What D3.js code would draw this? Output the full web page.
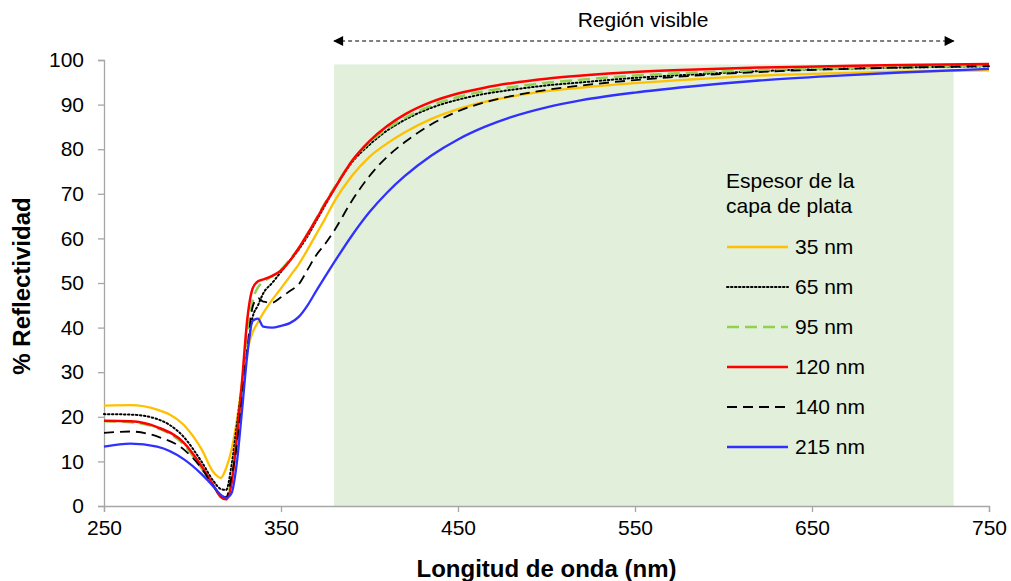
<!DOCTYPE html>
<html lang="es">
<head>
<meta charset="UTF-8">
<script src="https://d3js.org/d3.v7.min.js"></script>
<style>
  body { margin: 0; background: #fff; }
  text { font-family: "Liberation Sans", Arial, sans-serif; fill: #000; }
</style>
<title>Reflectividad</title>
</head>
<body>
<script>
// longitudes de onda (nm) compartidas por todas las curvas
var wavelengths = [250, 265, 280, 295, 305, 312, 316, 319, 322, 325, 328, 331, 334, 337, 340, 345, 350, 355, 360, 365, 370, 375, 380, 390, 400, 410, 420, 435, 450, 465, 480, 500, 520, 550, 580, 620, 660, 700, 750];

var r35  = [22.5, 22.6, 21.6, 18.2, 12.8, 7.5, 6.3, 8.5, 12.5, 19.0, 27.6, 35.0, 39.0, 41.2, 43.3, 46.2, 48.8, 51.5, 54.2, 57.5, 61.0, 64.5, 68.2, 74.0, 78.3, 81.3, 83.8, 86.8, 89.0, 90.6, 91.8, 93.0, 93.8, 94.8, 95.6, 96.5, 97.0, 97.4, 97.7];
var r65  = [20.6, 20.5, 19.5, 15.5, 10.0, 5.5, 3.8, 3.6, 9.0, 18.0, 27.0, 35.0, 42.4, 45.0, 47.7, 50.0, 52.5, 55.0, 57.5, 60.5, 64.0, 67.5, 71.0, 77.0, 81.0, 84.2, 86.6, 89.3, 91.1, 92.4, 93.3, 94.3, 95.0, 96.0, 96.7, 97.5, 98.0, 98.3, 98.6];
var r95  = [19.0, 18.8, 17.5, 13.8, 8.5, 4.2, 2.3, 2.0, 6.0, 15.0, 26.0, 38.0, 46.0, 49.0, 50.3, 51.5, 53.0, 55.3, 57.8, 61.0, 64.5, 68.0, 71.3, 77.3, 81.5, 84.6, 87.0, 89.8, 91.7, 93.0, 93.9, 94.9, 95.6, 96.5, 97.1, 97.7, 98.1, 98.4, 98.7];
var r120 = [19.1, 19.0, 17.7, 14.2, 9.0, 4.5, 2.0, 1.5, 5.0, 15.0, 28.0, 42.0, 48.8, 50.4, 50.8, 51.6, 52.8, 55.0, 57.8, 61.0, 64.3, 67.8, 71.0, 77.3, 81.8, 85.2, 87.8, 90.6, 92.5, 93.8, 94.8, 95.8, 96.5, 97.3, 97.8, 98.3, 98.6, 98.9, 99.1];
var r140 = [16.4, 16.7, 15.6, 12.7, 8.5, 4.3, 2.3, 2.0, 6.5, 13.5, 24.0, 35.0, 44.7, 46.6, 45.8, 45.6, 46.8, 48.2, 49.7, 53.0, 56.3, 58.8, 61.7, 68.4, 74.0, 78.3, 81.6, 85.6, 88.5, 90.5, 91.9, 93.3, 94.3, 95.5, 96.4, 97.3, 97.9, 98.3, 98.6];
var r215 = [13.3, 14.0, 13.3, 10.5, 7.2, 4.3, 2.5, 1.8, 2.8, 9.5, 21.5, 34.0, 41.5, 42.0, 40.2, 40.0, 40.4, 41.0, 42.4, 45.0, 48.3, 51.5, 54.6, 60.6, 65.9, 70.3, 74.0, 78.6, 82.2, 85.0, 87.2, 89.4, 91.0, 92.7, 94.0, 95.4, 96.4, 97.2, 98.0];

var seriesNames = ["35 nm", "65 nm", "95 nm", "120 nm", "140 nm", "215 nm"];
var seriesValues = [r35, r65, r95, r120, r140, r215];
var seriesColors = ["#ffc000", "#000000", "#92d050", "#ff0000", "#000000", "#3030ff"];
var seriesDash = [null, "1.5,2.5", "12,6", null, "10,6", null];
var seriesWidth = [2.3, 2, 2.5, 2.5, 1.8, 2.3];

var xTicks = [250, 350, 450, 550, 650, 750];
var yTicks = [0, 10, 20, 30, 40, 50, 60, 70, 80, 90, 100];
var visibleRange = [380, 730];
var visibleTop = 99;

var W = 1011, H = 581;
var margin = {top: 60, right: 22, bottom: 75, left: 104};

var svg = d3.select("body").append("svg")
    .attr("width", W)
    .attr("height", H);

var x = d3.scaleLinear().domain([250, 750]).range([margin.left, W - margin.right]);
var y = d3.scaleLinear().domain([0, 100]).range([H - margin.bottom, margin.top]);

// banda de la region visible
svg.append("rect")
    .attr("x", x(visibleRange[0]))
    .attr("y", y(visibleTop))
    .attr("width", x(visibleRange[1]) - x(visibleRange[0]))
    .attr("height", y(0) - y(visibleTop))
    .attr("fill", "#e2efda");

// ejes
var xAxis = svg.append("g")
    .attr("transform", "translate(0," + y(0) + ")")
    .call(d3.axisBottom(x).tickValues(xTicks).tickSize(6).tickPadding(8).tickFormat(d3.format("d")));
var yAxis = svg.append("g")
    .attr("transform", "translate(" + x(250) + ",0)")
    .call(d3.axisLeft(y).tickValues(yTicks).tickSize(6).tickPadding(14));

[xAxis, yAxis].forEach(function(a) {
  a.selectAll("path, line").attr("stroke", "#a6a6a6").attr("stroke-width", 1.3);
  a.selectAll("text").style("font-size", "21px").attr("fill", "#000")
    .style("font-family", "'Liberation Sans', Arial, sans-serif");
});

// curvas
var line = d3.line()
    .x(function(d) { return x(d[0]); })
    .y(function(d) { return y(d[1]); })
    .curve(d3.curveMonotoneX);

seriesValues.forEach(function(vals, i) {
  var pts = wavelengths.map(function(w, j) { return [w, vals[j]]; });
  svg.append("path")
      .datum(pts)
      .attr("d", line)
      .attr("fill", "none")
      .attr("stroke", seriesColors[i])
      .attr("stroke-width", seriesWidth[i])
      .attr("stroke-dasharray", seriesDash[i])
      .attr("stroke-linecap", seriesDash[i] == "1.5,2.5" ? "round" : "butt");
});

// titulos de ejes
svg.append("text")
    .attr("x", (x(250) + x(750)) / 2)
    .attr("y", 577)
    .attr("text-anchor", "middle")
    .style("font-size", "24px")
    .style("font-weight", "bold")
    .text("Longitud de onda (nm)");

svg.append("text")
    .attr("transform", "translate(30," + 286 + ") rotate(-90)")
    .attr("text-anchor", "middle")
    .style("font-size", "24px")
    .style("font-weight", "bold")
    .text("% Reflectividad");

// flecha de region visible
var defs = svg.append("defs");
defs.append("marker")
    .attr("id", "arrow")
    .attr("viewBox", "0 0 10 10")
    .attr("refX", 9).attr("refY", 5)
    .attr("markerWidth", 14).attr("markerHeight", 10)
    .attr("markerUnits", "userSpaceOnUse")
    .attr("orient", "auto-start-reverse")
    .append("path")
    .attr("d", "M0,0 L10,5 L0,10 Z")
    .attr("fill", "#000");

svg.append("line")
    .attr("x1", x(visibleRange[0]))
    .attr("x2", x(visibleRange[1]))
    .attr("y1", 41).attr("y2", 41)
    .attr("stroke", "#000")
    .attr("stroke-width", 1.2)
    .attr("stroke-dasharray", "4,3")
    .attr("marker-start", "url(#arrow)")
    .attr("marker-end", "url(#arrow)");

svg.append("text")
    .attr("x", 643)
    .attr("y", 27)
    .attr("text-anchor", "middle")
    .style("font-size", "21px")
    .text("Región visible");

// leyenda
var legend = svg.append("g");
legend.append("text").attr("x", 726).attr("y", 188).style("font-size", "21px").text("Espesor de la");
legend.append("text").attr("x", 726).attr("y", 213).style("font-size", "21px").text("capa de plata");

seriesNames.forEach(function(name, i) {
  var ly = 247 + i * 40;
  legend.append("line")
      .attr("x1", 727).attr("x2", 788)
      .attr("y1", ly).attr("y2", ly)
      .attr("stroke", seriesColors[i])
      .attr("stroke-width", seriesWidth[i])
      .attr("stroke-dasharray", seriesDash[i])
      .attr("stroke-linecap", seriesDash[i] == "1.5,2.5" ? "round" : "butt");
  legend.append("text")
      .attr("x", 795).attr("y", ly + 7)
      .style("font-size", "21px")
      .text(name);
});
</script>
</body>
</html>
